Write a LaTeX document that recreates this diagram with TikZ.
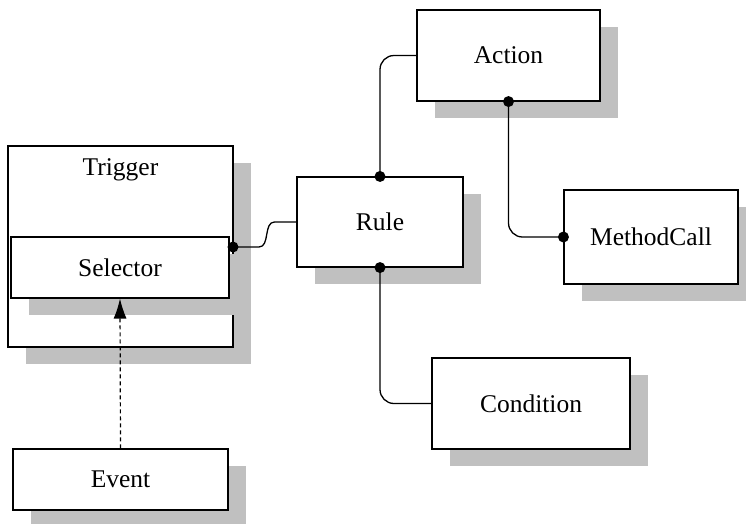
\documentclass[tikz,border=0pt]{standalone}
\usepackage{fontspec}
\setmainfont{Liberation Serif}
\usetikzlibrary{shadows,arrows.meta,calc}
\definecolor{shadowgray}{HTML}{C0C0C0}
\tikzset{
  box/.style={draw=black, fill=white, line width=1.1pt, inner sep=0pt,
    drop shadow={shadow xshift=18pt, shadow yshift=-17pt, fill=shadowgray, opacity=1},
    font=\fontsize{25.5}{30}\selectfont},
  conn/.style={line width=1.3pt, black},
  port/.style={fill=black},
  flow/.style={line width=1.2pt, dash pattern=on 4pt off 3pt, -{Latex[length=20pt,width=13pt]}}
}
\begin{document}
\begin{tikzpicture}[x=1pt, y=-1pt]
  \useasboundingbox (0,0) rectangle (746,523);
  % class boxes
  \node[box, minimum width=225pt, minimum height=201pt] (Trigger) at (120.5,246.5) {};
  \node[font=\fontsize{25.5}{30}\selectfont] (TriggerLabel) at (120.5,170) {Trigger};
  \node[box, minimum width=218pt, minimum height=61pt] (Selector) at (120,267.5) {Selector};
  \node[box, minimum width=166pt, minimum height=90pt] (Rule) at (380,222) {Rule};
  \node[box, minimum width=183pt, minimum height=91pt] (Action) at (508.5,55.5) {Action};
  \node[box, minimum width=174pt, minimum height=94pt] (MethodCall) at (651,237) {MethodCall};
  \node[box, minimum width=198pt, minimum height=91pt] (Condition) at (531,403.5) {Condition};
  \node[box, minimum width=215pt, minimum height=61pt] (Event) at (120.5,479.5) {Event};
  % connectors
  \coordinate (selport) at (233,247);
  \draw[conn] (selport) -- ++(26,0) .. controls +(11,0) and +(-11,0) .. ($(Rule.west)+(-22,0)$) -- (Rule.west);
  \draw[conn, rounded corners=14pt] (Action.west) -| (Rule.north);
  \draw[conn, rounded corners=14pt] (Action.south) |- (MethodCall.west);
  \draw[conn, rounded corners=14pt] (Rule.south) |- (Condition.west);
  \draw[flow] (Event.north) -- (Selector.south);
  % connection ports
  \foreach \p in {selport, Rule.north, Rule.south, Action.south, MethodCall.west}
    \fill[port] (\p) circle (5.5pt);
\end{tikzpicture}
\end{document}
